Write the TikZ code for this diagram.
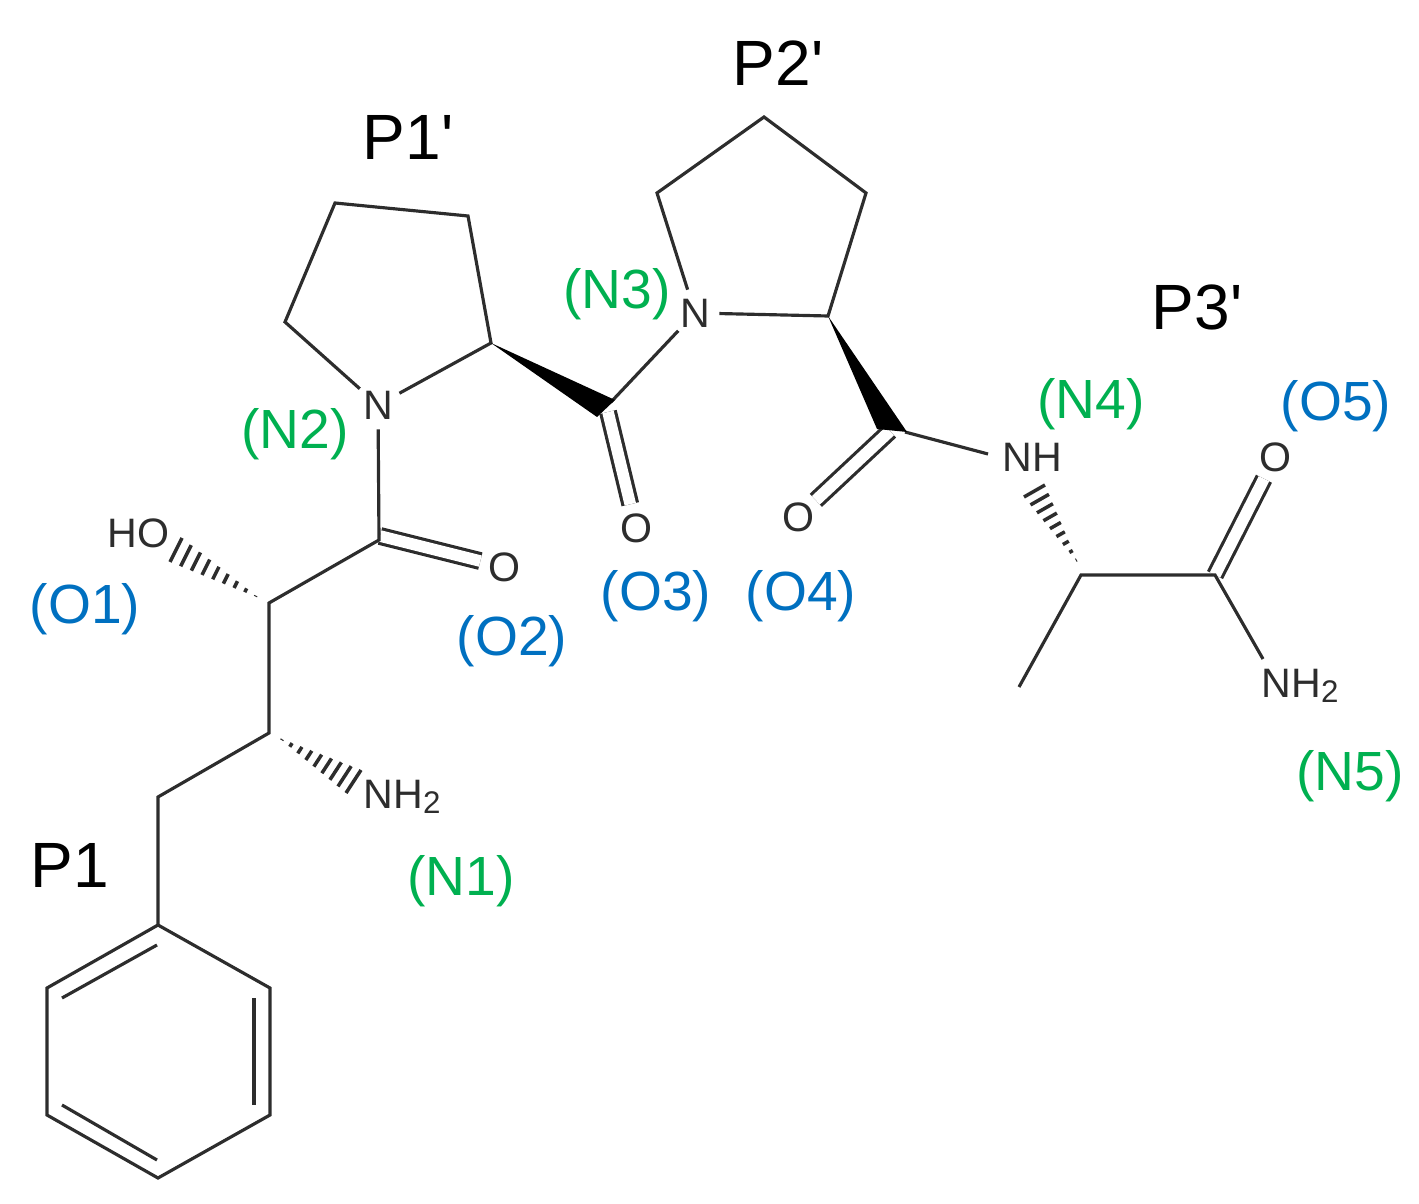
\documentclass[tikz,border=0pt]{standalone}
\usepackage{fontspec}
\setmainfont{Liberation Sans}
\definecolor{bondgray}{RGB}{45, 45, 45}
\definecolor{nitrogen}{RGB}{0, 176, 80}
\definecolor{oxygen}{RGB}{0, 112, 192}
\usetikzlibrary{calc, positioning}
\tikzset{
    bond/.style={line width=0.9pt, draw=bondgray},
    dblbond/.style={line width=0.9pt, draw=bondgray, double=white, double distance=3.3pt},
    atom/.style={circle, inner sep=0pt, minimum size=13.5pt, text=bondgray, font=\fontsize{11.7}{13}\selectfont},
    group/.style={rectangle, inner sep=0pt, text=bondgray, font=\fontsize{11.7}{13}\selectfont},
    residue/.style={inner sep=0pt, text=black, font=\fontsize{18.2}{20}\selectfont},
    nlabel/.style={inner sep=0pt, text=nitrogen, font=\fontsize{15.7}{17}\selectfont},
    olabel/.style={inner sep=0pt, text=oxygen, font=\fontsize{15.7}{17}\selectfont},
    hashbar/.style={line width=1pt, draw=bondgray}
}
\newcommand{\hashwedge}[3]{%
    \foreach \t in {0.04,0.16,...,1.01} {
        \draw[hashbar] ($(#1)!\t!(#2)$) -- ($(#1)!\t!(#3)$);
    }%
}
\newcommand{\subtwo}{\raisebox{-1.5pt}{\fontsize{8.9}{9}\selectfont 2}}
\begin{document}
\begin{tikzpicture}[x=0.01cm, y=-0.01cm]
        \useasboundingbox (0,0) rectangle (1419,1204);

        % Phenyl ring
        \coordinate (ph1) at (158,925);
        \coordinate (ph2) at (270,988);
        \coordinate (ph3) at (270,1115);
        \coordinate (ph4) at (158,1178);
        \coordinate (ph5) at (47,1115);
        \coordinate (ph6) at (47,988);
        \coordinate (ph1i) at (157,945);
        \coordinate (ph6i) at (62,998);
        \coordinate (ph2i) at (254,998);
        \coordinate (ph3i) at (254,1105);
        \coordinate (ph5i) at (62,1105);
        \coordinate (ph4i) at (157,1160);
        \draw[bond] (ph1) -- (ph2) -- (ph3) -- (ph4) -- (ph5) -- (ph6) -- cycle;
        \draw[bond] (ph1i) -- (ph6i);
        \draw[bond] (ph2i) -- (ph3i);
        \draw[bond] (ph5i) -- (ph4i);

        % Backbone carbons
        \coordinate (cb) at (158,797);
        \coordinate (ca) at (269,733);
        \coordinate (coh) at (269,603);
        \coordinate (c1) at (379,540);
        \coordinate (c1b) at (380,536);
        \coordinate (r1a) at (285,322);
        \coordinate (r1b) at (335,203);
        \coordinate (r1c) at (468,216);
        \coordinate (r1d) at (491,343);
        \coordinate (c2) at (611,402);
        \coordinate (c2b) at (608,412);
        \coordinate (r2a) at (657,193);
        \coordinate (r2b) at (764,117);
        \coordinate (r2c) at (866,193);
        \coordinate (r2d) at (828,316);
        \coordinate (c3) at (905,432);
        \coordinate (c3b) at (890,431);
        \coordinate (ala) at (1081,575);
        \coordinate (c4) at (1215,575);
        \coordinate (me) at (1019,687);

        % Heteroatoms
        \node[atom] (n2) at (378,405) {N};
        \node[atom] (n3) at (695,313) {N};
        \node[atom] (o2) at (504,567) {O};
        \node[atom] (o3) at (636,528) {O};
        \node[atom] (o4) at (798,517) {O};
        \node[atom] (o5) at (1275,457) {O};
        \node[group] (nh) at (1032,457) {NH};
        \node[group, anchor=base west] (oh) at (107,548) {HO};
        \node[group, anchor=base west] (nh1) at (363,808) {NH\subtwo};
        \node[group, anchor=base west] (nh5) at (1261,697) {NH\subtwo};
        \coordinate (nhend) at (988,454);
        \coordinate (nh5end) at (1263,659);

        % Double bonds go first, their white core must stay under the single bonds
        \draw[dblbond] (c1b) -- (o2);
        \draw[dblbond] (c2b) -- (o3);
        \draw[dblbond] (c3b) -- (o4);
        \draw[dblbond] (c4) -- (o5);

        % Single bonds
        \draw[bond] (ph1) -- (cb) -- (ca) -- (coh) -- (c1) -- (n2);
        \draw[bond] (n2) -- (r1a) -- (r1b) -- (r1c) -- (r1d) -- (n2);
        \draw[bond] (c2) -- (n3);
        \draw[bond] (n3) -- (r2a) -- (r2b) -- (r2c) -- (r2d) -- (n3);
        \draw[bond] (c3) -- (nhend);
        \draw[bond] (me) -- (ala) -- (c4) -- (nh5end);

        % Solid wedges
        \coordinate (w1a) at (615,400);
        \coordinate (w1b) at (597,417);
        \coordinate (w2a) at (907,432);
        \coordinate (w2b) at (877,429);
        \fill[black] (r1d) -- (w1a) -- (w1b) -- cycle;
        \fill[black] (r2d) -- (w2a) -- (w2b) -- cycle;

        % Hashed wedges
        \coordinate (h1t) at (259,598);
        \coordinate (h1a) at (182,538);
        \coordinate (h1b) at (170,562);
        \coordinate (h2t) at (279,738);
        \coordinate (h2a) at (361,770);
        \coordinate (h2b) at (346,793);
        \coordinate (h3t) at (1078,563);
        \coordinate (h3a) at (1045,485);
        \coordinate (h3b) at (1024,497);
        \hashwedge{h1t}{h1a}{h1b}
        \hashwedge{h2t}{h2a}{h2b}
        \hashwedge{h3t}{h3a}{h3b}

        % Residue names
        \node[residue] (p1) at (70,865) {P1};
        \node[residue] (p1p) at (408,137) {P1\textquotesingle};
        \node[residue] (p2p) at (778,63) {P2\textquotesingle};
        \node[residue] (p3p) at (1197,307) {P3\textquotesingle};

        % Atom numbering
        \node[nlabel] (ln1) at (461,881) {(N1)};
        \node[nlabel] (ln2) at (295,434) {(N2)};
        \node[nlabel] (ln3) at (617,294) {(N3)};
        \node[nlabel] (ln4) at (1091,404) {(N4)};
        \node[nlabel] (ln5) at (1350,776) {(N5)};
        \node[olabel] (lo1) at (85,609) {(O1)};
        \node[olabel] (lo2) at (512,641) {(O2)};
        \node[olabel] (lo3) at (656,596) {(O3)};
        \node[olabel] (lo4) at (801,596) {(O4)};
        \node[olabel] (lo5) at (1336,406) {(O5)};
    \end{tikzpicture}
\end{document}
